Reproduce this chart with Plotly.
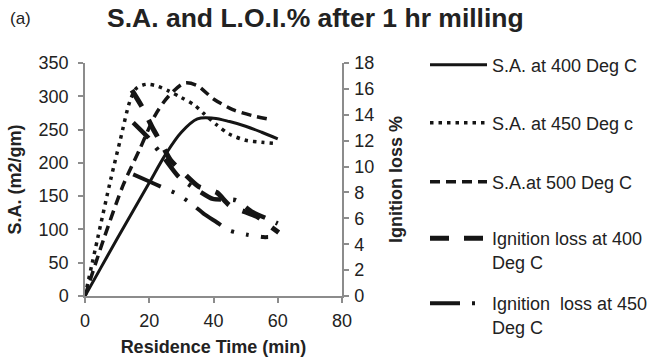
import plotly.graph_objects as go

# ---- data ----
t_sa400 = [0, 5, 10, 15, 20, 25, 30, 35, 40, 45, 50, 55, 60]
sa400 = [0, 43, 86, 128, 170, 212, 246, 266, 267, 262, 255, 246, 236]

t_sa450 = [0, 4, 8, 11, 14, 16, 19, 22, 26, 30, 34, 37, 41, 45, 50, 55, 60]
sa450 = [0, 88, 175, 235, 293, 312, 318, 316, 308, 298, 287, 274, 257, 243, 234, 231, 229]

t_sa500 = [0, 6, 12, 17, 22, 26, 31, 35, 40, 46, 52, 58]
sa500 = [0, 88, 168, 220, 273, 300, 320, 316, 296, 280, 271, 265]

t_ig400 = [14.6, 18, 21, 23.4, 26.6, 30.7, 35.4, 41, 45, 53.6, 57, 60.3]
ig400 = [15.9, 14.5, 13.0, 11.95, 10.5, 9.5, 8.45, 8.0, 7.0, 6.13, 5.5, 4.9]

t_ig450 = [15, 19.5, 24, 28.6, 33.3, 37, 41, 44.8, 50.2, 55.5, 57]
ig450 = [9.4, 8.9, 8.4, 7.9, 7.1, 6.35, 5.7, 5.07, 4.75, 4.55, 4.55]

t_ig500 = [15, 19.8, 24.5, 29.2, 34.9, 39.8, 46.9, 52.1, 58.3, 60]
ig500 = [13.4, 12.2, 10.7, 9.2, 8.2, 7.5, 7.4, 6.5, 5.8, 5.6]

names = ["S.A. at 400 Deg C", "S.A. at 450 Deg c", "S.A.at 500 Deg C",
         "Ignition loss at 400<br>Deg C", "Ignition  loss at 450<br>Deg C"]

x_ticks = [0, 20, 40, 60, 80]
y_ticks = [0, 50, 100, 150, 200, 250, 300, 350]
y2_ticks = [0, 2, 4, 6, 8, 10, 12, 14, 16, 18]

FONT = "Liberation Sans, Arial, sans-serif"
INK = "#151515"
AXC = "#8c8c8c"

fig = go.Figure()

fig.add_trace(go.Scatter(x=t_sa400, y=sa400, mode="lines", name=names[0], legend="legend",
                         line=dict(color=INK, width=3, shape="spline", smoothing=1.0)))
fig.add_trace(go.Scatter(x=t_sa450, y=sa450, mode="lines", name=names[1], legend="legend2",
                         line=dict(color=INK, width=3.5, dash="3.5px,5px", shape="spline", smoothing=0.8)))
fig.add_trace(go.Scatter(x=t_sa500, y=sa500, mode="lines", name=names[2], legend="legend3",
                         line=dict(color=INK, width=3.5, dash="10px,6px", shape="spline", smoothing=0.8)))
fig.add_trace(go.Scatter(x=t_ig400, y=ig400, mode="lines", name=names[3], legend="legend4", yaxis="y2",
                         line=dict(color=INK, width=5, dash="19px,15px", shape="spline", smoothing=0.6)))
fig.add_trace(go.Scatter(x=t_ig450, y=ig450, mode="lines", name=names[4], legend="legend5", yaxis="y2",
                         line=dict(color=INK, width=4, dash="30px,12px,3px,12px,3px,12px",
                                   shape="spline", smoothing=0.6)))
fig.add_trace(go.Scatter(x=t_ig500, y=ig500, mode="lines", name="Ignition loss at 500 Deg C", yaxis="y2",
                         showlegend=False,
                         line=dict(color=INK, width=4.5, dash="22px,12px,3px,12px",
                                   shape="spline", smoothing=0.6)))

W, H = 655, 358
leg_x = 425
leg_rows = [65, 123, 182, 250, 315]
legends = {}
for i, yc in enumerate(leg_rows):
    key = "legend" if i == 0 else f"legend{i+1}"
    legends[key] = dict(
        xref="container", yref="container",
        x=leg_x / W, y=1 - yc / H, xanchor="left", yanchor="middle",
        font=dict(family=FONT, size=18, color="#222"),
        itemwidth=57, bgcolor="rgba(0,0,0,0)", valign="top",
    )

axis_common = dict(
    showline=True, linecolor=AXC, linewidth=1.5, ticks="outside", ticklen=5,
    tickcolor=AXC, tickwidth=1.5, showgrid=False, zeroline=False, automargin=False,
    tickfont=dict(family=FONT, size=18, color="#222"),
)

fig.update_layout(
    width=W, height=H,
    margin=dict(l=85, r=W - 342, t=63, b=62),
    paper_bgcolor="white", plot_bgcolor="white",
    title=dict(text="<b>S.A. and L.O.I.% after 1 hr milling</b>",
               xref="container", yref="container", x=107 / W, xanchor="left",
               y=1 - 18 / H, yanchor="middle",
               font=dict(family=FONT, size=26.5, color="#222")),
    xaxis=dict(range=[0, 80], tickvals=x_ticks, ticklabelstandoff=3,
               title=dict(text="<b>Residence Time (min)</b>", standoff=10,
                          font=dict(family=FONT, size=18, color="#222")),
               **axis_common),
    yaxis=dict(range=[0, 350], tickvals=y_ticks, ticklabelstandoff=6,
               title=dict(text="<b>S.A. (m2/gm)</b>", standoff=12,
                          font=dict(family=FONT, size=18, color="#222")),
               **axis_common),
    yaxis2=dict(range=[0, 18], tickvals=y2_ticks, overlaying="y", side="right",
                ticklabelstandoff=2,
                title=dict(text="<b>Ignition loss %</b>", standoff=16,
                           font=dict(family=FONT, size=18, color="#222")),
                **axis_common),
    annotations=[dict(text="(a)", xref="paper", yref="paper",
                      x=-85 / 257 + 8 / 257, y=1 + (63 - 18) / 233,
                      xanchor="left", yanchor="middle", showarrow=False,
                      font=dict(family=FONT, size=17, color="#222"))],
    **legends,
)

fig.write_html("out.html")
